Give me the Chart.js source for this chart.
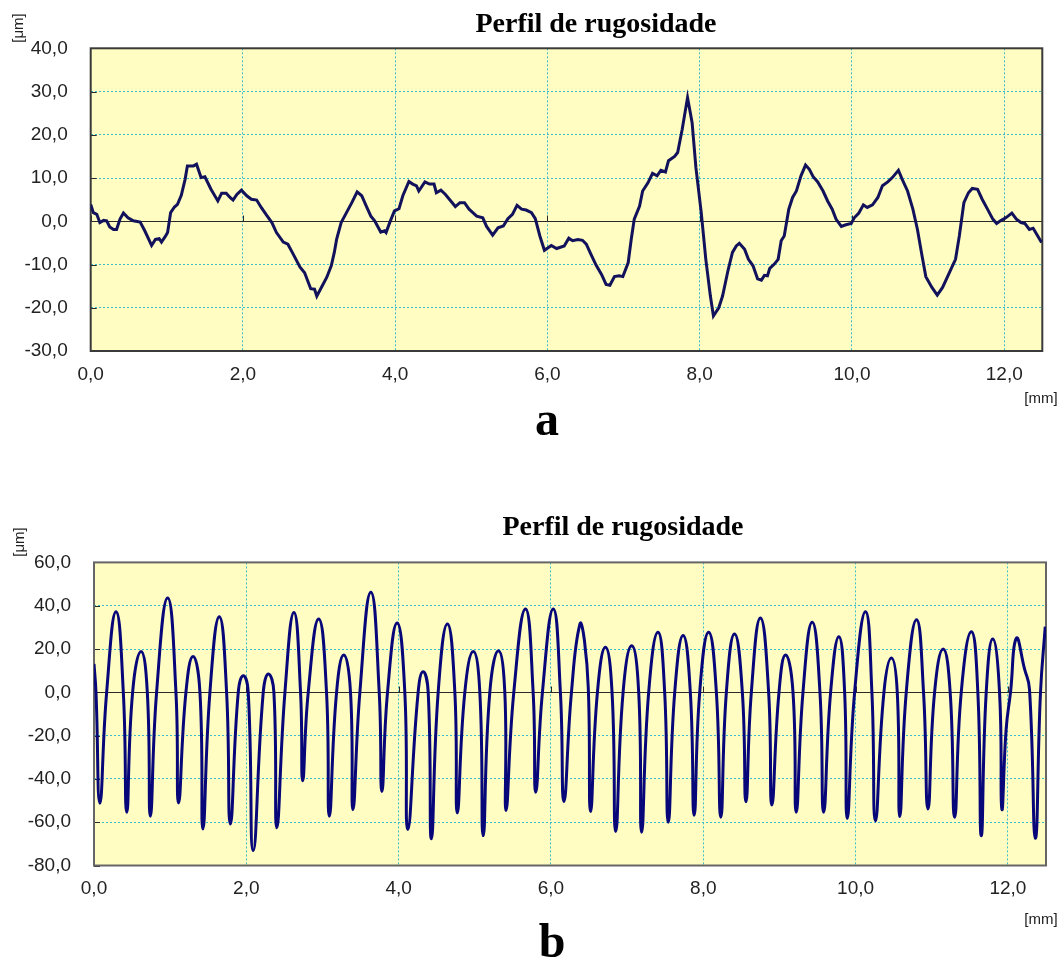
<!DOCTYPE html>
<html>
<head>
<meta charset="utf-8">
<title>Perfil de rugosidade</title>
<script src="https://cdn.jsdelivr.net/npm/chart.js@4.4.0/dist/chart.umd.min.js"></script>
<style>
  html, body { margin: 0; padding: 0; background: #fff; }
  #page { position: relative; width: 1064px; height: 960px; overflow: hidden; }
  canvas { position: absolute; left: 0; display: block; }
  #chartA { top: 0; }
  #chartB { top: 460px; }
</style>
</head>
<body>
<div id="page">
  <canvas id="chartA" width="1064" height="460"></canvas>
  <canvas id="chartB" width="1064" height="500"></canvas>
</div>
<script>
// profile a: position [mm] / height [um]
const distA = [0, 0.035, 0.08, 0.12, 0.17, 0.21, 0.25, 0.30, 0.34, 0.385, 0.43, 0.49, 0.56, 0.65, 0.71, 0.80, 0.85, 0.90, 0.93, 0.98,
  1.01, 1.05, 1.10, 1.14, 1.19, 1.24, 1.27, 1.35, 1.39, 1.45, 1.50, 1.58, 1.67, 1.72, 1.78, 1.83, 1.87, 1.92, 1.98,
  2.05, 2.11, 2.18, 2.24, 2.31, 2.38, 2.44, 2.53, 2.59, 2.66, 2.75, 2.81, 2.89, 2.94, 2.97,
  3.03, 3.10, 3.16, 3.20, 3.23, 3.29, 3.36, 3.43, 3.50, 3.56, 3.62, 3.68, 3.73, 3.81, 3.86, 3.88, 3.93, 3.99,
  4.05, 4.10, 4.18, 4.23, 4.28, 4.31, 4.39, 4.45, 4.51, 4.54, 4.60, 4.66, 4.73, 4.79, 4.85, 4.91, 4.97,
  5.02, 5.07, 5.15, 5.20, 5.28, 5.35, 5.42, 5.48, 5.54, 5.60, 5.66, 5.72, 5.79, 5.84, 5.90, 5.96,
  6.05, 6.12, 6.22, 6.28, 6.33, 6.40, 6.46, 6.51, 6.57, 6.64, 6.71, 6.77, 6.82, 6.88, 6.94, 6.99,
  7.06, 7.10, 7.14, 7.21, 7.25, 7.32, 7.38, 7.44, 7.49, 7.55, 7.59, 7.67, 7.71, 7.77, 7.84, 7.90, 7.95,
  8.02, 8.08, 8.14, 8.18, 8.25, 8.30, 8.37, 8.43, 8.48, 8.52, 8.59, 8.64, 8.70, 8.76, 8.81, 8.85, 8.89, 8.92, 8.98,
  9.03, 9.07, 9.11, 9.17, 9.22, 9.27, 9.33, 9.39, 9.44, 9.49, 9.55, 9.62, 9.68, 9.74, 9.79, 9.86, 9.92, 9.99,
  10.03, 10.09, 10.15, 10.20, 10.27, 10.34, 10.40, 10.47, 10.53, 10.61, 10.66, 10.73, 10.80, 10.86, 10.92, 10.97,
  11.05, 11.12, 11.19, 11.26, 11.32, 11.36, 11.41, 11.47, 11.53, 11.58, 11.65, 11.71, 11.78, 11.85, 11.90, 11.95,
  12.02, 12.10, 12.16, 12.22, 12.27, 12.33, 12.38, 12.44, 12.49];
const heightA = [3.9, 2.0, 1.6, -0.3, 0.2, 0.1, -1.3, -1.9, -1.9, 0.5, 1.9, 0.8, 0.1, -0.2, -2.2, -5.6, -4.2, -4.0, -4.8, -3.5,
  -2.6, 2.0, 3.3, 3.9, 6.0, 9.7, 12.8, 12.8, 13.2, 10.1, 10.3, 7.4, 4.7, 6.5, 6.5, 5.5, 4.9, 6.2, 7.2,
  5.9, 5.1, 4.9, 3.2, 1.4, -0.3, -2.6, -4.8, -5.3, -7.6, -10.6, -11.9, -15.6, -15.7, -17.3,
  -15.3, -13.0, -10.3, -7.2, -4.2, -0.3, 2.0, 4.3, 6.8, 5.9, 3.5, 1.2, 0.1, -2.5, -2.2, -2.6, -0.2, 2.4,
  2.9, 5.9, 9.2, 8.6, 8.2, 7.0, 9.1, 8.6, 8.6, 6.6, 7.2, 6.2, 4.7, 3.4, 4.3, 4.3, 2.8,
  2.0, 1.2, 0.8, -1.2, -3.2, -1.5, -1.1, 0.6, 1.6, 3.7, 2.8, 2.6, 2.0, 0.6, -3.4, -6.7,
  -5.6, -6.3, -5.7, -3.9, -4.5, -4.2, -4.4, -5.3, -7.6, -10.2, -12.3, -14.6, -14.8, -12.8, -12.6, -12.8,
  -9.6, -4.2, 0.5, 3.5, 7.0, 8.9, 11.1, 10.5, 11.8, 11.4, 14.0, 15.0, 15.9, 21.3, 28.6, 22.8, 12.4,
  2.0, -8.8, -17.3, -21.9, -20.0, -17.3, -11.5, -7.2, -5.7, -5.1, -6.5, -8.8, -10.3, -13.3, -13.6, -12.5, -12.6, -10.9, -9.9,
  -8.8, -4.5, -3.4, 2.8, 5.5, 7.0, 10.5, 13.0, 12.0, 10.3, 9.1, 7.0, 4.7, 2.8, 0.5, -1.2, -0.8, -0.5,
  0.8, 1.9, 3.8, 3.2, 3.8, 5.5, 8.2, 9.1, 10.1, 11.8, 9.7, 7.0, 2.8, -1.9, -8.0, -12.8,
  -15.3, -17.1, -15.3, -12.6, -10.3, -8.8, -3.4, 4.3, 6.6, 7.6, 7.4, 5.1, 2.8, 0.5, -0.5, 0.1,
  0.8, 1.9, 0.5, -0.3, -0.5, -1.9, -1.6, -3.4, -4.9];

// profile b: troughs, zero crossings and crests
const distB = [0, 0.026, 0.077, 0.166, 0.289, 0.385, 0.43, 0.507, 0.617, 0.700, 0.74, 0.822, 0.967, 1.076,
  1.11, 1.207, 1.30, 1.391, 1.43, 1.522, 1.645, 1.741, 1.79, 1.894, 1.96, 2.025,
  2.09, 2.222, 2.29, 2.362, 2.40, 2.507, 2.625, 2.712, 2.74, 2.813, 2.95, 3.053,
  3.09, 3.185, 3.28, 3.368, 3.40, 3.491, 3.635, 3.745, 3.78, 3.854, 3.98, 4.081,
  4.12, 4.256, 4.32, 4.388, 4.43, 4.519, 4.64, 4.738, 4.77, 4.869, 4.98, 5.066,
  5.11, 5.197, 5.31, 5.394, 5.41, 5.512, 5.665, 5.766, 5.80, 5.888, 6.03, 6.124,
  6.17, 6.269, 6.38, 6.44, 6.492, 6.52, 6.610, 6.715, 6.802, 6.85, 6.947, 7.06, 7.152,
  7.19, 7.283, 7.405, 7.493, 7.54, 7.625, 7.735, 7.830, 7.88, 7.953, 8.07, 8.172,
  8.23, 8.303, 8.41, 8.513, 8.56, 8.631, 8.75, 8.858, 8.90, 8.994, 9.08, 9.178,
  9.22, 9.309, 9.43, 9.532, 9.58, 9.672, 9.78, 9.856, 9.89, 9.987, 10.13, 10.214,
  10.26, 10.372, 10.47, 10.547, 10.58, 10.665, 10.80, 10.892, 10.95, 11.037, 11.15, 11.242,
  11.30, 11.387, 11.52, 11.605, 11.65, 11.715, 11.80, 11.890, 11.92, 11.977, 12.034, 12.11,
  12.218, 12.283, 12.36, 12.428, 12.49];
const heightB = [13.1, 0, -51.2, 0, 37.2, 0, -55.4, 0, 18.8, 0, -57.2, 0, 43.5, 0,
  -51.1, 0, 16.5, 0, -63.1, 0, 34.9, 0, -60.8, 0, 7.7, 0,
  -73.1, 0, 8.5, 0, -62.6, 0, 36.9, 0, -40.8, 0, 33.8, 0,
  -57.2, 0, 17.2, 0, -54.2, 0, 46.2, 0, -45.8, 0, 32.0, 0,
  -63.4, 0, 9.5, 0, -67.7, 0, 31.5, 0, -55.7, 0, 18.8, 0,
  -66.2, 0, 19.2, 0, -54.6, 0, 38.5, 0, -46.2, 0, 38.5, 0,
  -50.5, 0, 31.5, 23.8, 0, -55.1, 0, 20.8, 0, -64.3, 0, 21.5, 0,
  -64.6, 0, 27.7, 0, -60.0, 0, 26.2, 0, -56.8, 0, 27.7, 0,
  -57.7, 0, 26.9, 0, -50.5, 0, 34.3, 0, -52.1, 0, 17.2, 0,
  -55.4, 0, 32.3, 0, -55.4, 0, 25.7, 0, -58.3, 0, 37.2, 0,
  -59.4, 0, 15.8, 0, -57.4, 0, 33.5, 0, -53.9, 0, 20.0, 0,
  -57.7, 0, 28.0, 0, -66.3, 0, 24.6, 0, -53.9, -16.9, 0, 24.9,
  10.8, 1.5, -67.4, 0, 30.3];

const xTicks = [0, 2, 4, 6, 8, 10, 12];
const yRangeA = [-30, 40], yStepA = 10;
const yRangeB = [-80, 60], yStepB = 20;

Chart.defaults.font.family = '"Liberation Sans", Arial, sans-serif';
Chart.defaults.font.size = 19;
Chart.defaults.color = '#222';

const fmt = v => Number(v).toFixed(1).replace('.', ',');

// plot background, zero line, frame and loose texts
const framePlugin = {
  id: 'frame',
  beforeDraw(chart, args, o) {
    const {ctx, chartArea: a} = chart;
    ctx.save();
    ctx.fillStyle = '#fffdc2';
    ctx.fillRect(a.left, a.top, a.right - a.left, a.bottom - a.top);
    ctx.restore();
  },
  beforeDatasetsDraw(chart, args, o) {
    const {ctx, chartArea: a, scales: {x, y}} = chart;
    const y0 = Math.round(y.getPixelForValue(0)) + 0.5;
    ctx.save();
    ctx.strokeStyle = '#2a2a2a';
    ctx.lineWidth = 1;
    ctx.beginPath();
    ctx.moveTo(a.left, y0); ctx.lineTo(a.right, y0);
    y.ticks.forEach(t => {
      const p = Math.round(y.getPixelForValue(t.value)) + 0.5;
      ctx.moveTo(a.left, p); ctx.lineTo(a.left + 6, p);
    });
    x.ticks.forEach(t => {
      const p = Math.round(x.getPixelForValue(t.value)) + 0.5;
      ctx.moveTo(p, y0); ctx.lineTo(p, y0 - 6);
    });
    ctx.stroke();
    ctx.strokeStyle = o.border;
    ctx.lineWidth = 2;
    ctx.strokeRect(a.left, a.top, a.right - a.left, a.bottom - a.top);
    ctx.restore();
  },
  afterDraw(chart, args, o) {
    const ctx = chart.ctx;
    (o.texts || []).forEach(t => {
      ctx.save();
      ctx.font = t.font;
      ctx.fillStyle = t.color || '#000';
      ctx.textAlign = 'center';
      ctx.textBaseline = t.baseline || 'alphabetic';
      ctx.translate(t.x, t.y);
      if (t.rotate) ctx.rotate(t.rotate);
      ctx.fillText(t.text, 0, 0);
      ctx.restore();
    });
  }
};

function makeChart(id, xs, ys, cfg) {
  const points = xs.map((v, i) => ({x: v, y: ys[i]}));
  return new Chart(document.getElementById(id), {
    type: 'line',
    data: {
      datasets: [{
        data: points,
        borderColor: cfg.lineColor,
        borderWidth: 3,
        pointRadius: 0,
        tension: cfg.tension,
        fill: false
      }]
    },
    options: {
      responsive: false,
      animation: false,
      layout: {padding: cfg.padding},
      plugins: {
        legend: {display: false},
        tooltip: {enabled: false},
        frame: {border: cfg.border, texts: cfg.texts}
      },
      scales: {
        x: {
          type: 'linear',
          min: 0,
          max: 12.5,
          afterFit: s => { s.height = 40; },
          afterBuildTicks: s => { s.ticks = xTicks.map(v => ({value: v})); },
          ticks: {padding: 12, callback: fmt, maxRotation: 0, autoSkip: false, includeBounds: false},
          grid: {color: '#3fbccb', lineWidth: 1, drawTicks: false},
          border: {display: false, dash: [2, 2]}
        },
        y: {
          min: cfg.yRange[0],
          max: cfg.yRange[1],
          afterFit: s => { s.width = cfg.axisWidth; },
          ticks: {stepSize: cfg.yStep, padding: 23, callback: fmt, autoSkip: false},
          grid: {color: '#3fbccb', lineWidth: 1, drawTicks: false},
          border: {display: false, dash: [2, 2]}
        }
      }
    },
    plugins: [framePlugin]
  });
}

makeChart('chartA', distA, heightA, {
  lineColor: '#12125c',
  tension: 0,
  border: '#3a3a3a',
  yRange: yRangeA,
  yStep: yStepA,
  axisWidth: 90.7,
  padding: {top: 48.3, right: 21.7, bottom: 69, left: 0},
  texts: [
    {text: 'Perfil de rugosidade', x: 596, y: 32, font: 'bold 28px "Liberation Serif", "Times New Roman", serif'},
    {text: '[\u03bcm]', x: 19, y: 28, font: '15px "Liberation Sans", Arial, sans-serif', baseline: 'middle', rotate: -Math.PI / 2, color: '#222'},
    {text: '[mm]', x: 1041, y: 399, font: '15px "Liberation Sans", Arial, sans-serif', baseline: 'middle', color: '#222'},
    {text: 'a', x: 547, y: 435, font: 'bold 48px "Liberation Serif", "Times New Roman", serif'}
  ]
});

makeChart('chartB', distB, heightB, {
  lineColor: '#07077a',
  tension: 0.5,
  border: '#666',
  yRange: yRangeB,
  yStep: yStepB,
  axisWidth: 94,
  padding: {top: 102.4, right: 18, bottom: 54.5, left: 0},
  texts: [
    {text: 'Perfil de rugosidade', x: 623, y: 75, font: 'bold 28px "Liberation Serif", "Times New Roman", serif'},
    {text: '[\u03bcm]', x: 20, y: 82, font: '15px "Liberation Sans", Arial, sans-serif', baseline: 'middle', rotate: -Math.PI / 2, color: '#222'},
    {text: '[mm]', x: 1041, y: 460, font: '15px "Liberation Sans", Arial, sans-serif', baseline: 'middle', color: '#222'},
    {text: 'b', x: 552, y: 497, font: 'bold 48px "Liberation Serif", "Times New Roman", serif'}
  ]
});
</script>
</body>
</html>
